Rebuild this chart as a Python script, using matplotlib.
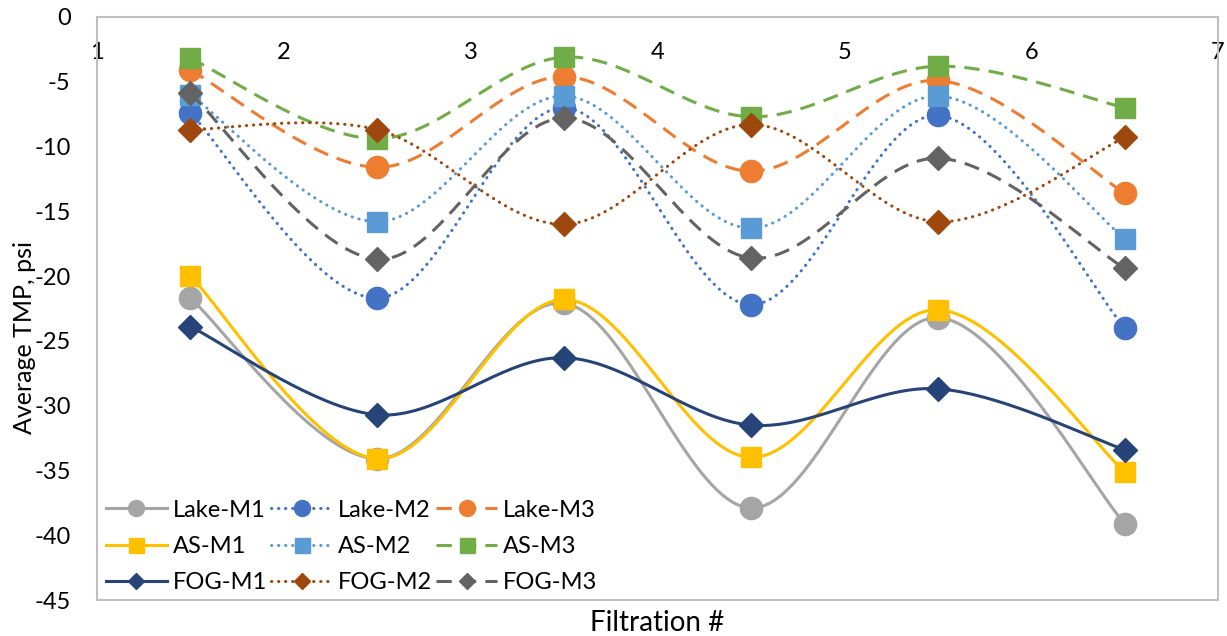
import numpy as np
import matplotlib
matplotlib.use("Agg")
import matplotlib.pyplot as plt

plt.rcParams['font.family'] = ['Lato', 'DejaVu Sans']
plt.rcParams['axes.unicode_minus'] = False

filtration = [1.5, 2.5, 3.5, 4.5, 5.5, 6.5]

lake_m1 = [-21.7, -34.1, -22.1, -37.9, -23.2, -39.1]
lake_m2 = [-7.4, -21.7, -7.0, -22.2, -7.6, -24.0]
lake_m3 = [-4.1, -11.6, -4.6, -11.9, -4.9, -13.6]
as_m1 = [-20.0, -34.1, -21.8, -34.0, -22.6, -35.1]
as_m2 = [-6.0, -15.8, -6.1, -16.3, -6.1, -17.1]
as_m3 = [-3.2, -9.4, -3.1, -7.7, -3.8, -7.0]
fog_m1 = [-23.9, -30.7, -26.3, -31.5, -28.7, -33.4]
fog_m2 = [-8.7, -8.7, -16.0, -8.3, -15.8, -9.3]
fog_m3 = [-5.9, -18.7, -7.8, -18.6, -10.9, -19.4]

labels = ['Lake-M1', 'Lake-M2', 'Lake-M3', 'AS-M1', 'AS-M2', 'AS-M3',
          'FOG-M1', 'FOG-M2', 'FOG-M3']
series = [lake_m1, lake_m2, lake_m3, as_m1, as_m2, as_m3, fog_m1, fog_m2, fog_m3]
colors = ['#A5A5A5', '#4472C4', '#ED7D31', '#FFC000', '#5B9BD5', '#70AD47',
          '#264478', '#9E480E', '#636363']
markers = ['o', 'o', 'o', 's', 's', 's', 'D', 'D', 'D']
styles = ['solid', 'dot', 'dash'] * 3


def smooth(x, y, n=40):
    # Catmull-Rom style Bezier smoothing (as in spreadsheet "smoothed line")
    x = np.asarray(x, float)
    y = np.asarray(y, float)
    P = np.column_stack([x, y])
    out = []
    m = len(P)
    for i in range(m - 1):
        p0 = P[i - 1] if i > 0 else P[i]
        p1 = P[i]
        p2 = P[i + 1]
        p3 = P[i + 2] if i + 2 < m else P[i + 1]
        c1 = p1 + (p2 - p0) / 6.0
        c2 = p2 - (p3 - p1) / 6.0
        t = np.linspace(0, 1, n)[:, None]
        seg = ((1 - t) ** 3) * p1 + 3 * ((1 - t) ** 2) * t * c1 + 3 * (1 - t) * t ** 2 * c2 + t ** 3 * p2
        if i > 0:
            seg = seg[1:]
        out.append(seg)
    out = np.vstack(out)
    return out[:, 0], out[:, 1]


fig = plt.figure(figsize=(12.27, 6.36), dpi=100)
ax = fig.add_axes([0.079, 0.0566, 0.9137, 0.9167])

lw = 2.2
msizes = {'o': 16, 's': 15, 'D': 12}
handles = []
for lab, ys, c, mk, st in zip(labels, series, colors, markers, styles):
    sx, sy = smooth(filtration, ys)
    if st == 'solid':
        ls = '-'
        cap = 'butt'
    elif st == 'dot':
        ls = (0, (0.1, 2.2))
        cap = 'round'
    else:
        ls = (0, (5.0, 3.0))
        cap = 'butt'
    ax.plot(sx, sy, color=c, lw=lw, linestyle=ls, dash_capstyle=cap,
            solid_capstyle='butt')
    ax.plot(filtration, ys, linestyle='none', marker=mk, markersize=msizes[mk],
            color=c, markeredgecolor=c)
    h, = ax.plot([], [], color=c, lw=lw, linestyle=ls, dash_capstyle=cap,
                 marker=mk, markersize=msizes[mk] * 0.72, markeredgecolor=c)
    handles.append(h)

ax.set_xlim(1, 7)
ax.set_ylim(-45, 0)
ax.set_yticks(np.arange(-45, 1, 5))
ax.set_xticks(range(1, 8))
ax.xaxis.tick_top()
ax.tick_params(axis='x', which='both', length=0, pad=-33, labelsize=17,
               labeltop=True, labelbottom=False)
ax.tick_params(axis='y', length=0, pad=19, labelsize=17)
for sp in ax.spines.values():
    sp.set_color('#BFBFBF')
    sp.set_linewidth(1.5)

ax.set_xlabel('Filtration #', fontsize=20, labelpad=7)
ax.xaxis.set_label_position('bottom')
ax.set_ylabel('Average TMP, psi', fontsize=18, labelpad=1)
ax.yaxis.set_label_coords(-0.054, 0.45)

# legend rows: Lake, AS, FOG ; columns: M1, M2, M3
order = [0, 3, 6, 1, 4, 7, 2, 5, 8]
leg = ax.legend([handles[i] for i in order], [labels[i] for i in order],
                ncol=3, loc='lower left', frameon=False, fontsize=17,
                handlelength=2.55, numpoints=1, columnspacing=0.2,
                handletextpad=0.25, labelspacing=0.64,
                bbox_to_anchor=(0.0, -0.004), borderaxespad=0.0)

fig.savefig('out.png', dpi=100)
